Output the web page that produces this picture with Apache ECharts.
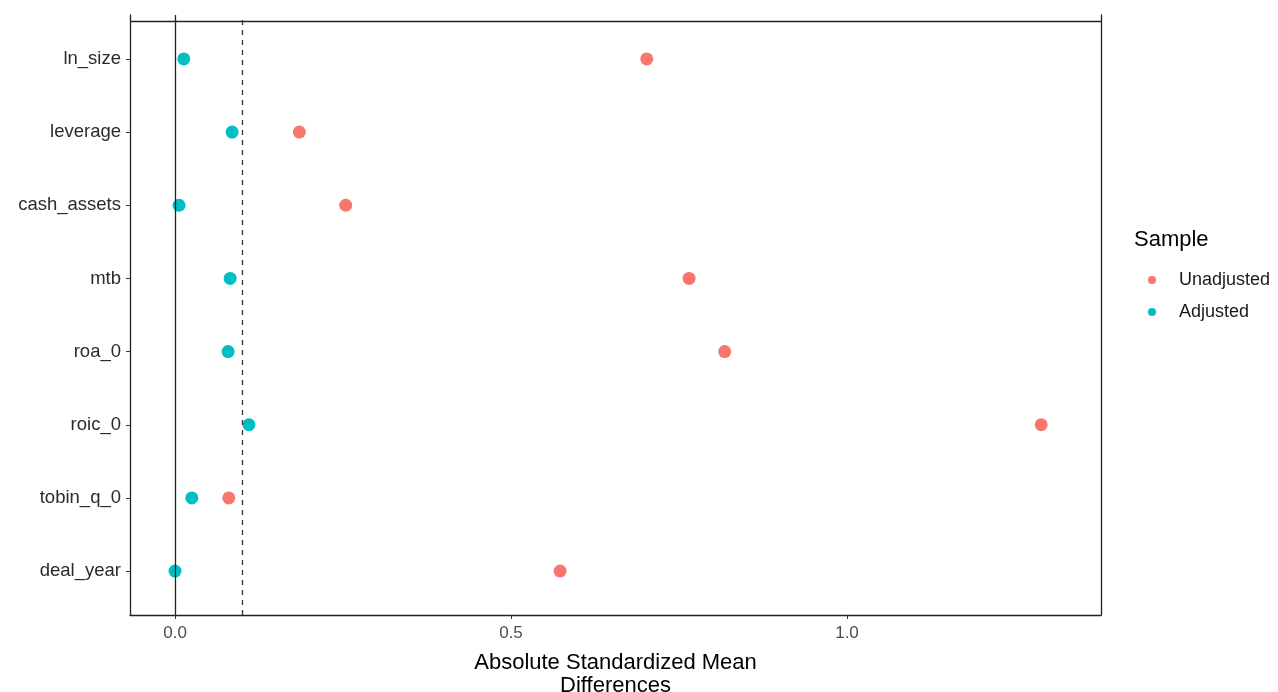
<!DOCTYPE html>
<html>
<head>
<meta charset="utf-8">
<script src="https://cdn.jsdelivr.net/npm/echarts@6/dist/echarts.min.js"></script>
<style>
  html, body { margin: 0; padding: 0; background: #fff; }
  #main { width: 1278px; height: 692px; }
</style>
</head>
<body>
<div id="main"></div>
<script>
// covariates, bottom to top on the y axis
const covariates = ['deal_year', 'tobin_q_0', 'roic_0', 'roa_0', 'mtb', 'cash_assets', 'leverage', 'ln_size'];
const unadjusted = [0.573, 0.080, 1.289, 0.818, 0.765, 0.254, 0.185, 0.702];
const adjusted = [0.000, 0.025, 0.110, 0.079, 0.082, 0.006, 0.085, 0.013];
const xTicks = [0, 0.5, 1.0];
const threshold = 0.1;

const font = '"Liberation Sans", Arial, sans-serif';
const chart = echarts.init(document.getElementById('main'));

const toPoints = arr => arr.map((v, i) => [v, i + 1]);

const option = {
  backgroundColor: '#fff',
  animation: false,
  textStyle: { fontFamily: font },
  grid: { left: 130, right: 177, top: 15, bottom: 77, outerBoundsMode: 'none', containLabel: false },
  xAxis: {
    type: 'value',
    min: -0.067,
    max: 1.378,
    splitLine: { show: false },
    axisLine: { onZero: false, lineStyle: { color: '#222', width: 1.3 } },
    axisTick: { show: true, length: 4, customValues: xTicks, lineStyle: { color: '#333' } },
    axisLabel: {
      customValues: xTicks, color: '#4d4d4d', fontSize: 17, margin: 10,
      formatter: v => v.toFixed(1)
    },
    name: 'Absolute Standardized Mean\nDifferences',
    nameLocation: 'middle',
    nameGap: 36,
    nameTextStyle: { color: '#000', fontSize: 22, lineHeight: 23, verticalAlign: 'top' }
  },
  yAxis: [{
    type: 'value',
    min: 0.4,
    max: 8.6,
    splitLine: { show: false },
    axisLine: { show: true, onZero: false, lineStyle: { color: '#222', width: 1.3 } },
    axisTick: { show: true, length: 4, customValues: [1, 2, 3, 4, 5, 6, 7, 8], lineStyle: { color: '#333' } },
    axisLabel: {
      customValues: [1, 2, 3, 4, 5, 6, 7, 8], color: '#2b2b2b', fontSize: 18.5, margin: 9,
      formatter: v => covariates[Math.round(v) - 1]
    }
  }, {
    type: 'value',
    position: 'right',
    min: 0.4,
    max: 8.6,
    splitLine: { show: false },
    axisLine: { show: true, onZero: false, lineStyle: { color: '#222', width: 1.3 } },
    axisTick: { show: false },
    axisLabel: { show: false }
  }],
  legend: {
    orient: 'vertical',
    left: 1143,
    top: 266,
    itemWidth: 8,
    itemHeight: 8,
    itemGap: 14,
    icon: 'circle',
    textStyle: { fontSize: 18, color: '#1a1a1a', padding: [0, 0, 0, 18], fontFamily: font },
    data: ['Unadjusted', 'Adjusted']
  },
  graphic: [{
    type: 'text',
    left: 1134,
    top: 229,
    style: { text: 'Sample', fontSize: 22, fill: '#000', fontFamily: font }
  }],
  series: [{
    name: 'Unadjusted',
    type: 'scatter',
    symbolSize: 13,
    itemStyle: { color: '#F8766D', opacity: 1 },
    data: toPoints(unadjusted),
    z: 3
  }, {
    name: 'Adjusted',
    type: 'scatter',
    symbolSize: 13,
    itemStyle: { color: '#00BFC4', opacity: 1 },
    data: toPoints(adjusted),
    z: 4,
    markLine: {
      silent: true,
      symbol: 'none',
      label: { show: false },
      data: [
        { xAxis: 0, lineStyle: { color: '#222', type: 'solid', width: 1.3 } },
        { xAxis: threshold, lineStyle: { color: '#333', type: [5, 5], width: 1.3 } },
        { yAxis: 8.52, lineStyle: { color: '#222', type: 'solid', width: 1.3 } }
      ]
    }
  }]
};

chart.setOption(option);
</script>
</body>
</html>
